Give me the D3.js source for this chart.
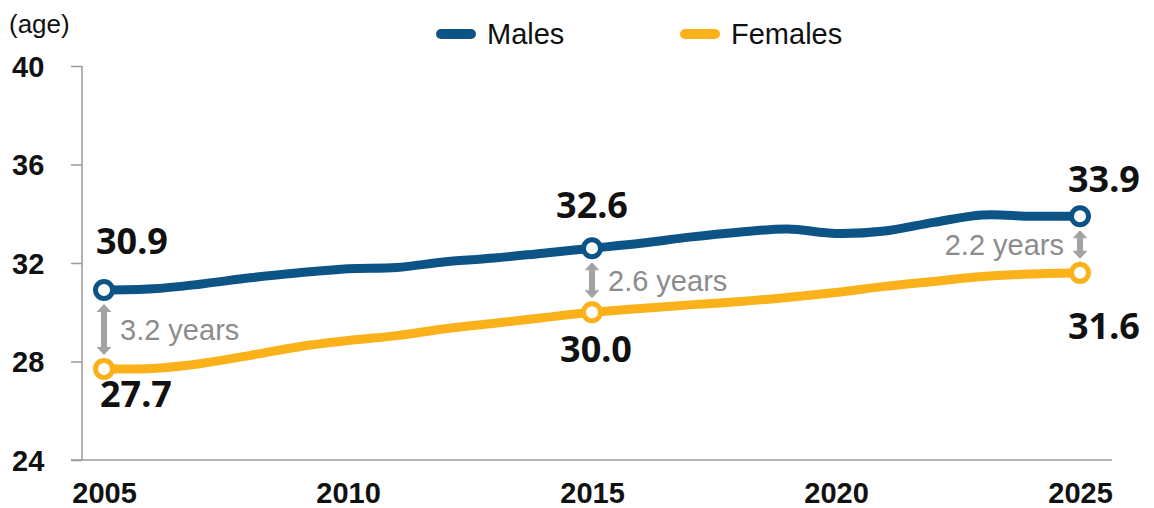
<!DOCTYPE html>
<html><head><meta charset="utf-8">
<script src="https://cdn.jsdelivr.net/npm/d3@7"></script>
<style>
html,body{margin:0;padding:0;background:#fff;}
svg{display:block;}
</style></head>
<body>
<svg id="chart" width="1154" height="508"></svg>
<script>
const years = d3.range(2005, 2026);
const males = [30.9,30.95,31.15,31.4,31.6,31.77,31.82,32.05,32.2,32.4,32.6,32.8,33.05,33.25,33.38,33.2,33.3,33.65,33.95,33.9,33.9];
const females = [27.7,27.72,27.92,28.25,28.6,28.85,29.05,29.33,29.55,29.78,30.0,30.15,30.3,30.43,30.6,30.8,31.05,31.25,31.45,31.55,31.6];
const yTicks = [24,28,32,36,40];
const xTicks = [2005,2010,2015,2020,2025];
const markerYears = [2005,2015,2025];
const gapLabels = ["3.2 years","2.6 years","2.2 years"];
const seriesNames = ["Males","Females"];
const colors = ["#0c5486","#fbb119"];

const svg = d3.select("#chart");
const x = d3.scaleLinear().domain([2005,2025]).range([104,1080]);
const y = d3.scaleLinear().domain([24,40]).range([460,66]);

// axes
const yAxis = d3.axisLeft(y).tickValues(yTicks).tickSize(11).tickFormat(d3.format("d"));
const gy = svg.append("g").attr("transform","translate(82,0)").call(yAxis);
gy.select(".domain").attr("stroke","#9a9a9a").attr("stroke-width",1.5).attr("d","M0,66V460");
gy.selectAll(".tick line").attr("stroke","#9a9a9a").attr("stroke-width",1.5);
gy.selectAll(".tick text").attr("x",-34).attr("text-anchor","end").attr("dy","0.36em")
  .style("font-family","'Liberation Sans',Arial,sans-serif").style("font-weight","bold").style("font-size","29px").attr("fill","#111")
  .attr("transform","translate(0,0)");
gy.selectAll(".tick text").attr("x",-70).attr("text-anchor","start");

const xAxis = d3.axisBottom(x).tickValues(xTicks).tickSize(0).tickFormat(d3.format("d"));
const gx = svg.append("g").attr("transform","translate(0,460)").call(xAxis);
gx.select(".domain").attr("stroke","#9a9a9a").attr("stroke-width",1.5).attr("d","M71,0H1112");
gx.selectAll(".tick text").attr("y",43).attr("dy",0)
  .style("font-family","'Liberation Sans',Arial,sans-serif").style("font-weight","bold").style("font-size","29px").attr("fill","#111");

// unit label
svg.append("text").attr("x",9).attr("y",33).text("(age)")
  .style("font-family","'Liberation Sans',Arial,sans-serif").style("font-size","26px").attr("fill","#111");

// lines
const line = d3.line().x((d,i)=>x(years[i])).y(d=>y(d)).curve(d3.curveCatmullRom.alpha(0.5));
[males,females].forEach((s,k)=>{
  svg.append("path").attr("d",line(s)).attr("fill","none").attr("stroke",colors[k])
    .attr("stroke-width",9).attr("stroke-linejoin","round").attr("stroke-linecap","round");
});

// gap arrows
function arrow(xp, y1, y2){
  const g = svg.append("g").attr("fill","#a3a3a3");
  const hw = 7.5, hl = 8, sw = 3;
  g.append("path").attr("d",
    `M${xp},${y1} L${xp+hw},${y1+hl} L${xp+sw},${y1+hl} L${xp+sw},${y2-hl} L${xp+hw},${y2-hl} L${xp},${y2} L${xp-hw},${y2-hl} L${xp-sw},${y2-hl} L${xp-sw},${y1+hl} L${xp-hw},${y1+hl} Z`);
}
const gapFont = g=>g.style("font-family","'Liberation Sans',Arial,sans-serif").style("font-size","29px").attr("fill","#8c8c8c");
markerYears.forEach((yr,i)=>{
  const idx = years.indexOf(yr);
  const ym = y(males[idx]), yf = y(females[idx]);
  arrow(x(yr), ym+14, yf-14);
  const t = svg.append("text").attr("y",(ym+yf)/2).attr("dy","0.36em").text(gapLabels[i]);
  gapFont(t);
  if (i<2) t.attr("x",x(yr)+16).attr("text-anchor","start");
  else t.attr("x",x(yr)-16).attr("text-anchor","end");
});

// markers
[males,females].forEach((s,k)=>{
  markerYears.forEach(yr=>{
    const idx = years.indexOf(yr);
    svg.append("circle").attr("cx",x(yr)).attr("cy",y(s[idx])).attr("r",8.5)
      .attr("fill","#fff").attr("stroke",colors[k]).attr("stroke-width",5);
  });
});

// value labels
const valFont = t=>t.style("font-family","'Noto Sans','Open Sans',sans-serif").style("font-weight","bold").style("font-size","36px").attr("fill","#111");
const labelPos = [
  {yr:2005, s:0, dx:-8, dy:-36, anchor:"start"},
  {yr:2015, s:0, dx:0, dy:-30, anchor:"middle"},
  {yr:2025, s:0, dx:-12, dy:-24, anchor:"start"},
  {yr:2005, s:1, dx:-4, dy:38, anchor:"start"},
  {yr:2015, s:1, dx:4, dy:50, anchor:"middle"},
  {yr:2025, s:1, dx:-12, dy:66, anchor:"start"}
];
labelPos.forEach(p=>{
  const s = p.s===0?males:females;
  const v = s[years.indexOf(p.yr)];
  valFont(svg.append("text").attr("x",x(p.yr)+p.dx).attr("y",y(v)+p.dy).attr("text-anchor",p.anchor).text(d3.format(".1f")(v)));
});

// legend
const legX = [436,680];
seriesNames.forEach((n,k)=>{
  svg.append("line").attr("x1",legX[k]+5).attr("x2",legX[k]+35).attr("y1",34).attr("y2",34)
    .attr("stroke",colors[k]).attr("stroke-width",10).attr("stroke-linecap","round");
  svg.append("text").attr("x",legX[k]+51).attr("y",34).attr("dy","0.36em").text(n)
    .style("font-family","'Liberation Sans',Arial,sans-serif").style("font-size","29px").attr("fill","#111");
});
</script>
</body></html>
